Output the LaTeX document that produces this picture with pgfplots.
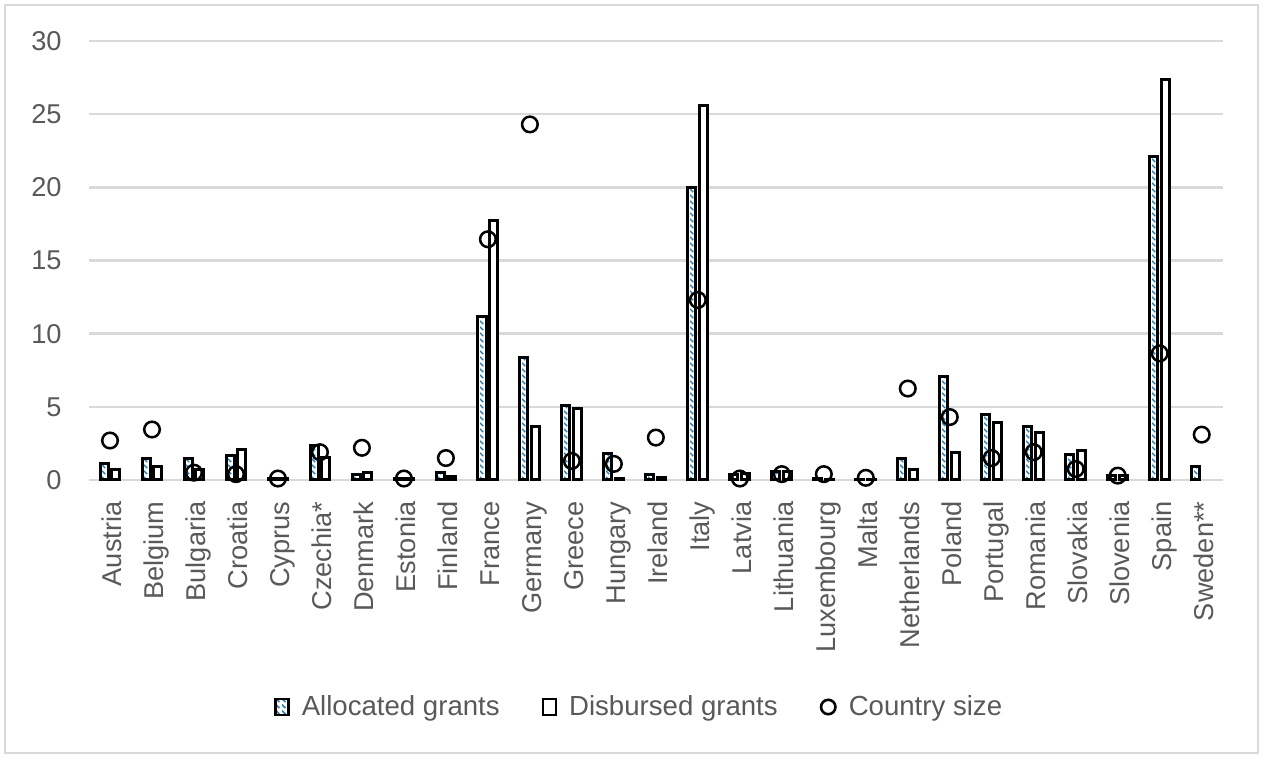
\documentclass[border=0pt]{standalone}
\usepackage{fontspec}
\setmainfont{Liberation Sans}
\usepackage{pgfplots}
\usepackage{pgfplotstable}
\pgfplotsset{compat=1.18}
\usetikzlibrary{patterns.meta}

\definecolor{txt}{HTML}{595959}
\definecolor{gridc}{HTML}{D9D9D9}
\definecolor{hatch}{HTML}{2C82B0}

% dashed downward diagonal hatching for the allocated grants
\tikzdeclarepattern{
  name=dashdiag,
  type=uncolored,
  bounding box={(0pt,0pt) and (3pt,3pt)},
  tile size={(3pt,3pt)},
  code={
    \pgfsetlinewidth{0.75pt}
    \pgfpathmoveto{\pgfpoint{0pt}{3pt}}
    \pgfpathlineto{\pgfpoint{1.9pt}{1.1pt}}
    \pgfusepath{stroke}
  }
}

% grants (bn EUR) and country size per member state
\pgfplotstableread{
idx alloc disb size
0  1.10  0.70  2.70
1  1.45  0.90  3.45
2  1.50  0.75  0.50
3  1.65  2.10  0.40
4  0.10  0.10  0.10
5  2.35  1.55  1.90
6  0.40  0.50  2.20
7  0.10  0.10  0.10
8  0.50  0.25  1.50
9  11.20 17.70 16.45
10 8.40  3.65  24.30
11 5.10  4.90  1.30
12 1.80  0.10  1.10
13 0.35  0.20  2.90
14 20.00 25.60 12.30
15 0.40  0.45  0.10
16 0.60  0.60  0.40
17 0.10  0.05  0.40
18 0.05  0.05  0.15
19 1.50  0.75  6.25
20 7.05  1.90  4.30
21 4.50  3.95  1.50
22 3.65  3.25  1.90
23 1.75  2.00  0.75
24 0.30  0.30  0.30
25 22.10 27.40 8.65
26 0.90  nan   3.10
}\grants

\begin{document}
\begin{tikzpicture}
\useasboundingbox (0,0) rectangle (631.5pt,379pt);
\draw[gridc, line width=1.2pt] (2.5pt,2.5pt) rectangle (629pt,376.5pt);
\begin{axis}[
  at={(44.5pt,139pt)}, anchor=south west,
  scale only axis, width=566.85pt, height=219.5pt,
  xmin=-0.5, xmax=26.5, ymin=0, ymax=30,
  ytick={0,5,...,30},
  xtick={0,...,26},
  xticklabels={Austria,Belgium,Bulgaria,Croatia,Cyprus,Czechia*,Denmark,Estonia,Finland,France,Germany,Greece,Hungary,Ireland,Italy,Latvia,Lithuania,Luxembourg,Malta,Netherlands,Poland,Portugal,Romania,Slovakia,Slovenia,Spain,Sweden**},
  ymajorgrids,
  major grid style={gridc, line width=1.2pt},
  axis line style={draw=none},
  major tick length=0pt,
  tick style={draw=none},
  clip=false,
  /pgf/number format/assume math mode=true,
  ticklabel style={font=\fontsize{13.6}{16}\selectfont, text=txt, inner sep=0pt},
  yticklabel shift=13.5pt,
  xticklabel shift=10.6pt,
  xticklabel style={rotate=90, anchor=east, text height=12pt, text depth=0pt},
  legend columns=3,
  legend cell align=left,
  legend style={at={(0.1632,-0.5171)}, anchor=west, draw=none, fill=none,
    inner sep=0pt, font=\fontsize{13.8}{16}\selectfont,
    nodes={inner sep=0pt, text=txt},
    /tikz/every odd column/.append style={column sep=6pt},
    /tikz/every even column/.append style={column sep=21pt}},
]
\addplot[ybar, bar width=4pt, bar shift=-2.95pt, draw=black, line width=1.5pt,
  fill=white, postaction={pattern=dashdiag, pattern color=hatch},
  legend image code/.code={
    \draw[black, line width=1.2pt, fill=white, postaction={pattern=dashdiag, pattern color=hatch}]
      (0pt,-4pt) rectangle (6.5pt,4pt);}]
  table[x=idx, y=alloc]{\grants};
\addlegendentry{Allocated grants}
\addplot[ybar, bar width=4pt, bar shift=2.95pt, draw=black, line width=1.5pt, fill=white,
  legend image code/.code={
    \draw[black, line width=1.2pt, fill=white] (0pt,-4pt) rectangle (6.5pt,4pt);}]
  table[x=idx, y=disb]{\grants};
\addlegendentry{Disbursed grants}
\addplot[only marks, mark=o, mark size=3.9pt, mark options={draw=black, line width=1.25pt},
  legend image code/.code={
    \draw[black, line width=1.3pt] (4.2pt,0pt) circle (3.6pt);}]
  table[x=idx, y=size]{\grants};
\addlegendentry{Country size}
\end{axis}
\end{tikzpicture}
\end{document}
